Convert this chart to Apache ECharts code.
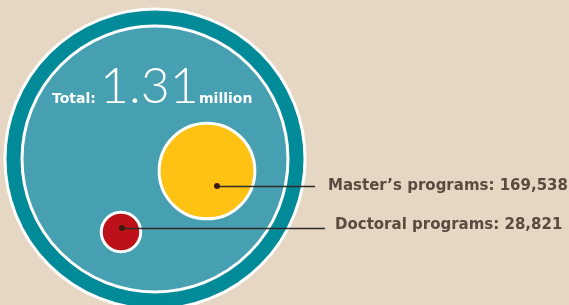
<!DOCTYPE html>
<html><head><meta charset="utf-8">
<script src="https://cdn.jsdelivr.net/npm/echarts@6/dist/echarts.min.js"></script>
<style>html,body{margin:0;padding:0;background:#e6d7c4}#c{width:569px;height:305px}</style>
</head><body><div id="c"></div>
<script>
// ---- data ----
const categories = ["Master\u2019s programs", "Doctoral programs"];
const values = [169538, 28821];
const total = 1310000;
const totalText = ["Total:", "1.31", "million"];
const colors = ["#fdc214", "#bd1019"];

// ---- layout (pixel-like units on hidden axes) ----
const center = [155, 159];
const R = 133;                 // radius of the inner disc = total
const bubblePos = [[207, 171], [121, 232]];
const dotPos = [[217, 186], [122, 228]];
const lineEnd = [315, 325];
const labelX = [328, 335];
const labelY = [186, 225];

const fmt = v => v.toLocaleString('en-US');
const chart = echarts.init(document.getElementById('c'), null, {renderer: 'canvas'});

const bubbleData = values.map((v, i) => ({
  value: [bubblePos[i][0], bubblePos[i][1], v],
  itemStyle: {color: colors[i]}
}));

chart.setOption({
  backgroundColor: '#e6d7c4',
  animation: false,
  grid: {left: 0, right: 0, top: 0, bottom: 0},
  xAxis: {type: 'value', min: 0, max: 569, show: false},
  yAxis: {type: 'value', min: 0, max: 305, inverse: true, show: false},
  series: [
    {type: 'scatter', silent: true, z: 1, data: [center], symbolSize: 2 * 150,
     itemStyle: {color: '#018a98', borderColor: '#ffffff', borderWidth: 3, opacity: 1}},
    {type: 'scatter', silent: true, z: 2, data: [center], symbolSize: 2 * R,
     itemStyle: {color: '#46a0b1', borderColor: '#ffffff', borderWidth: 3, opacity: 1}},
    {type: 'scatter', silent: true, z: 3, data: bubbleData,
     symbolSize: val => 2 * R * Math.sqrt(val[2] / total),
     itemStyle: {borderColor: '#ffffff', borderWidth: 3, opacity: 1}},
    {type: 'lines', coordinateSystem: 'cartesian2d', silent: true, z: 4,
     lineStyle: {color: '#2e2a28', width: 1.3, opacity: 1},
     data: values.map((v, i) => ({coords: [dotPos[i], [lineEnd[i], dotPos[i][1]]]}))},
    {type: 'scatter', silent: true, z: 5, data: dotPos, symbolSize: 6,
     itemStyle: {color: '#3a1c0c', opacity: 1}}
  ],
  graphic: [
    {type: 'text', left: 52, top: 92, z: 10, style: {text: totalText[0], fill: '#fff',
      font: 'bold 14px "DejaVu Sans", sans-serif'}},
    {type: 'text', left: 100, top: 62, z: 10, style: {text: totalText[1], fill: '#fff',
      font: '300 50px Lato, sans-serif'}},
    {type: 'text', left: 199, top: 92, z: 10, style: {text: totalText[2], fill: '#fff',
      font: 'bold 14px "DejaVu Sans", sans-serif'}},
    ...categories.map((c, i) => ({
      type: 'text', x: labelX[i], y: labelY[i], z: 10,
      style: {text: c + ': ' + fmt(values[i]), fill: '#5a4a40',
        font: 'bold 15px "DejaVu Sans", sans-serif', verticalAlign: 'middle', align: 'left'}
    }))
  ]
});
</script></body></html>
